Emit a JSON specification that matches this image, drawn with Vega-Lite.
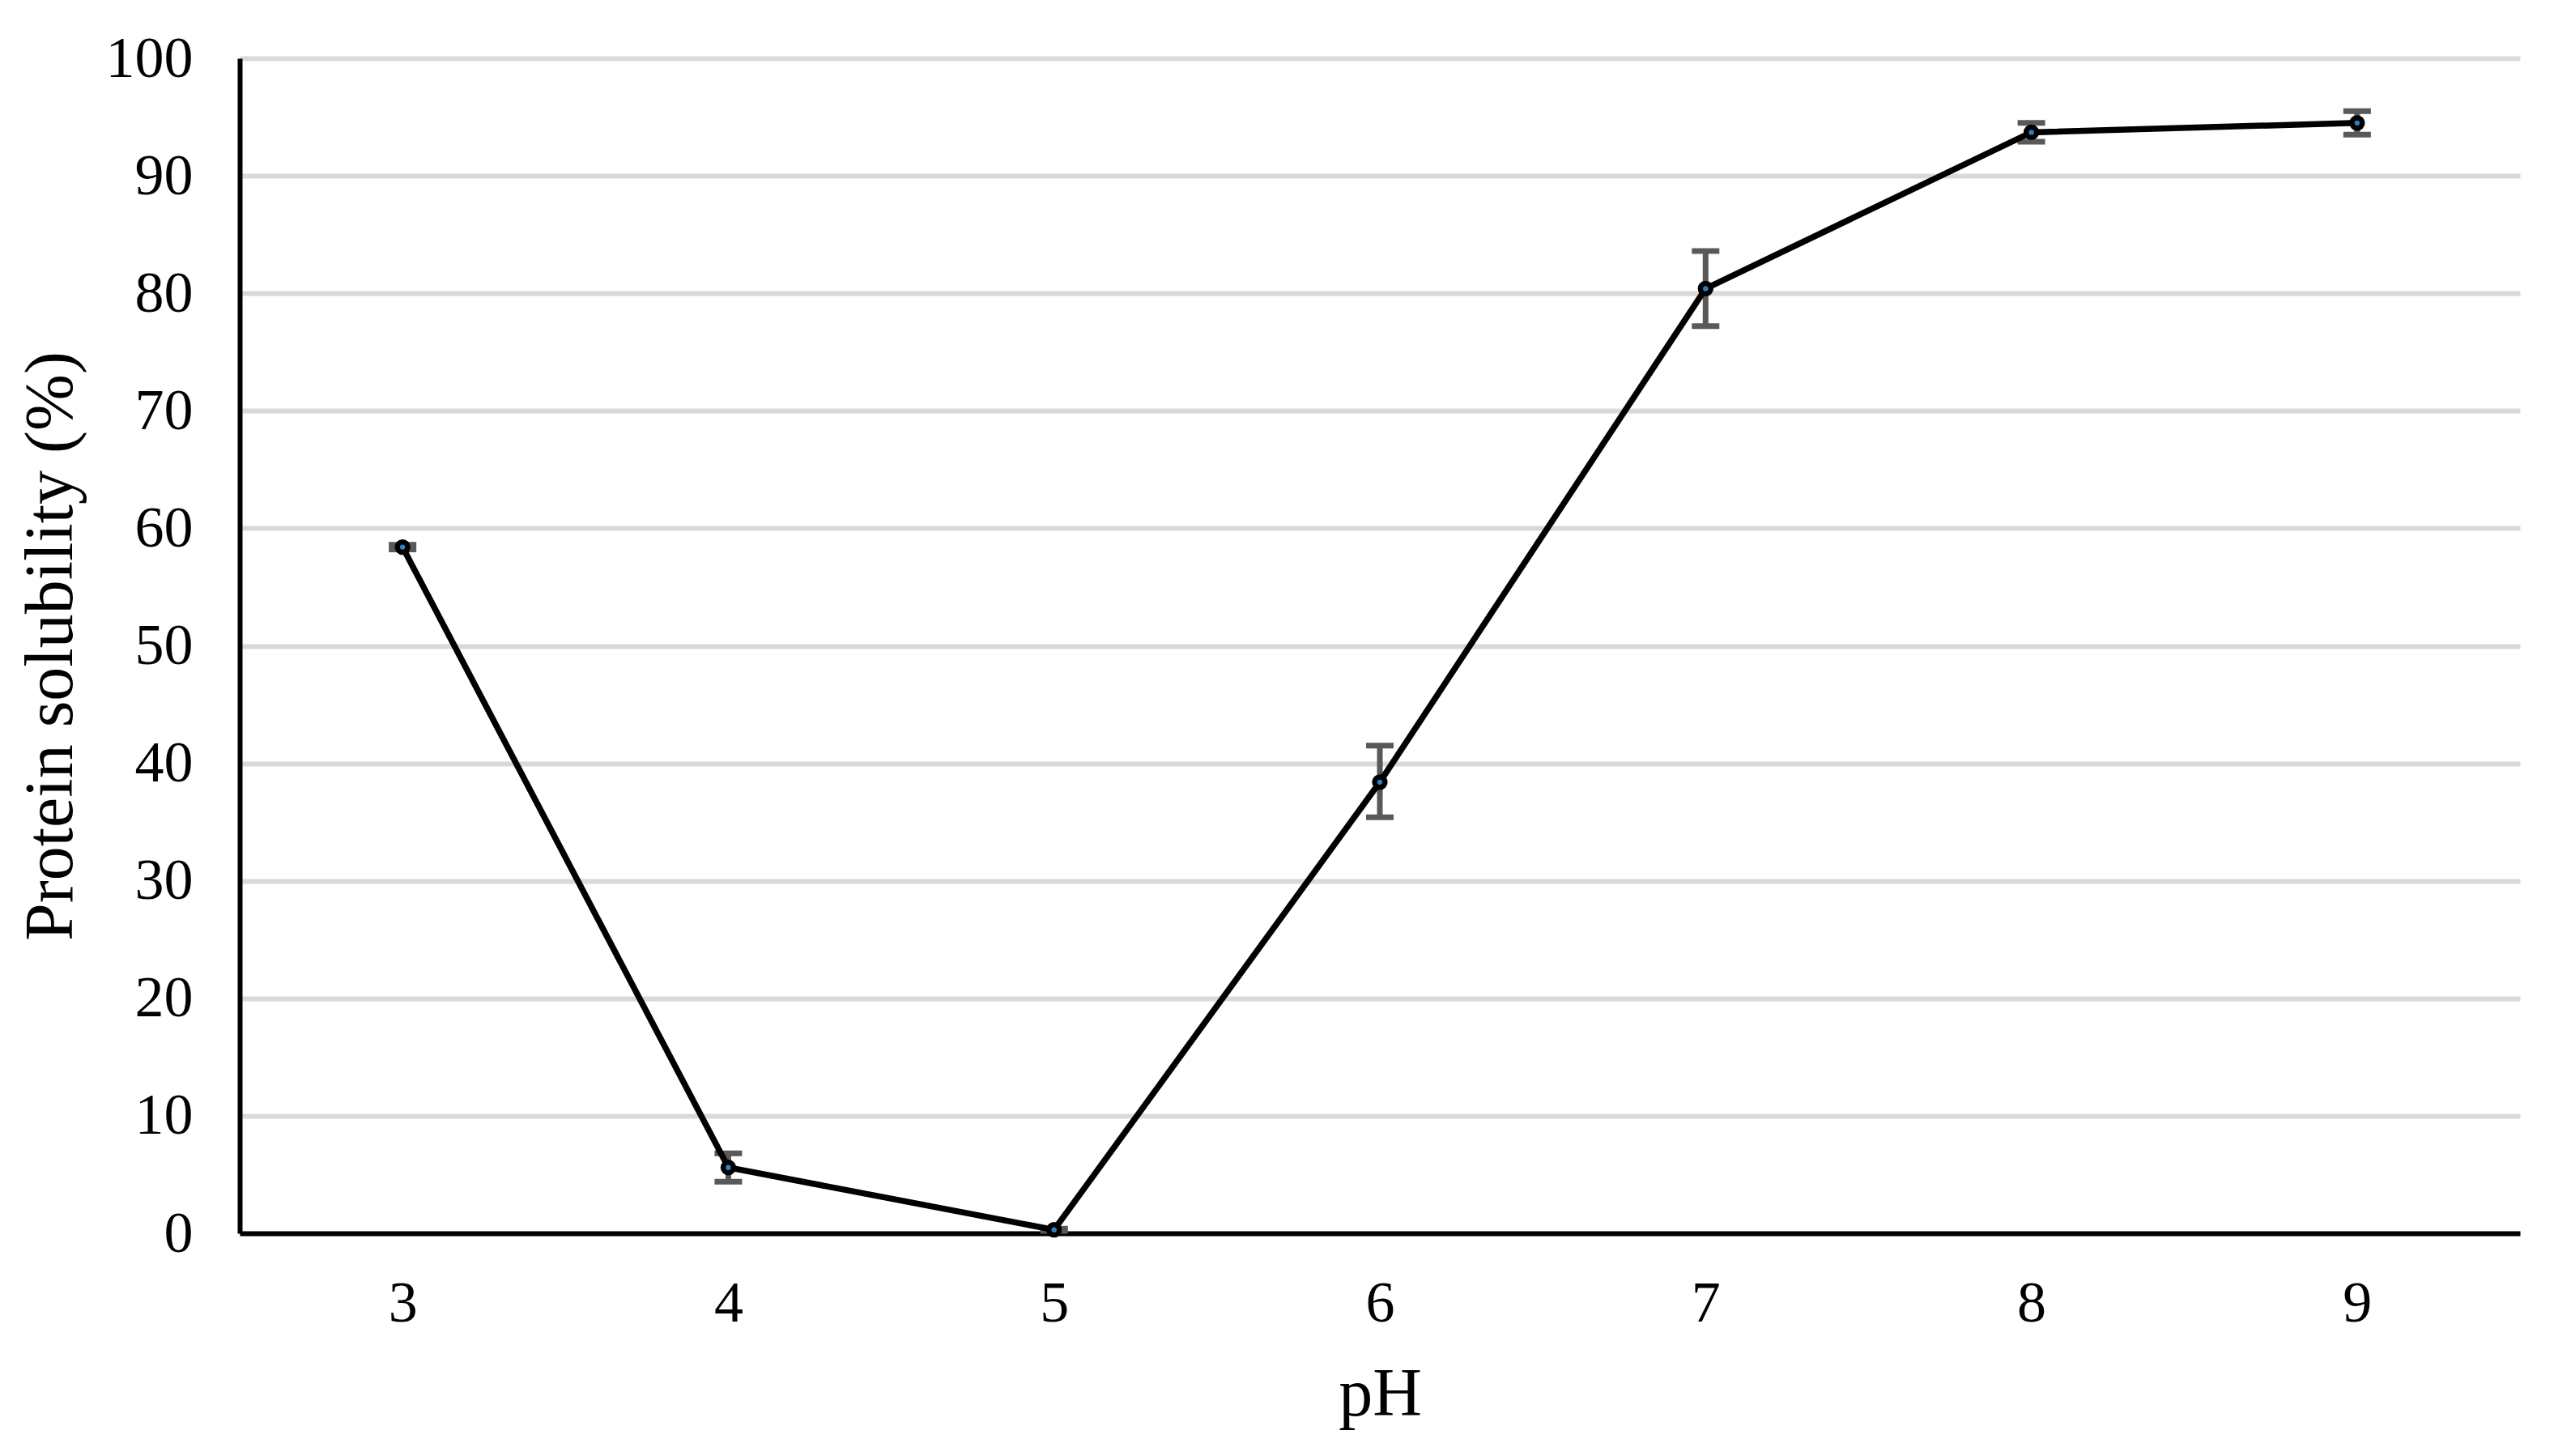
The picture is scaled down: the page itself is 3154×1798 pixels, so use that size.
{
  "$schema": "https://vega.github.io/schema/vega-lite/v6.json",
  "autosize": {"type": "none"},
  "padding": {"left": 296, "top": 72, "right": 42, "bottom": 275},
  "width": 2816,
  "height": 1451,
  "background": "white",
  "config": {
    "view": {"stroke": null},
    "font": "Liberation Serif",
    "axis": {"labelFont": "Liberation Serif", "titleFont": "Liberation Serif", "labelColor": "black", "titleColor": "black", "titleFontWeight": "normal"}
  },
  "data": {
    "values": [
      {"pH": "3", "sol": 58.4, "lo": 58.2, "hi": 58.6},
      {"pH": "4", "sol": 5.6, "lo": 4.4, "hi": 6.8},
      {"pH": "5", "sol": 0.3, "lo": 0.2, "hi": 0.4},
      {"pH": "6", "sol": 38.4, "lo": 35.4, "hi": 41.5},
      {"pH": "7", "sol": 80.4, "lo": 77.2, "hi": 83.6},
      {"pH": "8", "sol": 93.7, "lo": 92.9, "hi": 94.5},
      {"pH": "9", "sol": 94.5, "lo": 93.5, "hi": 95.5}
    ]
  },
  "encoding": {
    "x": {
      "field": "pH", "type": "ordinal", "sort": null,
      "scale": {"type": "point", "padding": 0.5},
      "axis": {
        "title": "pH", "titleFontSize": 84, "titlePadding": 36,
        "labelFontSize": 72, "labelPadding": 51, "labelAngle": 0,
        "ticks": false, "grid": false,
        "domainColor": "black", "domainWidth": 6
      }
    }
  },
  "layer": [
    {
      "mark": {"type": "rule", "color": "#595959", "strokeWidth": 7},
      "encoding": {
        "y": {
          "field": "lo", "type": "quantitative",
          "scale": {"domain": [0, 100], "nice": false},
          "axis": {
            "title": "Protein solubility (%)", "titleFontSize": 84, "titlePadding": 24,
            "labelFontSize": 72, "labelPadding": 58,
            "values": [0, 10, 20, 30, 40, 50, 60, 70, 80, 90, 100],
            "ticks": false,
            "grid": true, "gridColor": "#d9d9d9", "gridWidth": 6,
            "domainColor": "black", "domainWidth": 6
          }
        },
        "y2": {"field": "hi"}
      }
    },
    {
      "mark": {"type": "tick", "color": "#595959", "thickness": 7, "size": 34, "opacity": 1},
      "encoding": {"y": {"field": "lo", "type": "quantitative"}}
    },
    {
      "mark": {"type": "tick", "color": "#595959", "thickness": 7, "size": 34, "opacity": 1},
      "encoding": {"y": {"field": "hi", "type": "quantitative"}}
    },
    {
      "mark": {"type": "line", "color": "black", "strokeWidth": 7.5},
      "encoding": {"y": {"field": "sol", "type": "quantitative"}}
    },
    {
      "mark": {"type": "point", "shape": "circle", "filled": true, "fill": "#2b83c6", "stroke": "black", "strokeWidth": 6.5, "size": 165, "opacity": 1},
      "encoding": {"y": {"field": "sol", "type": "quantitative"}}
    }
  ]
}
